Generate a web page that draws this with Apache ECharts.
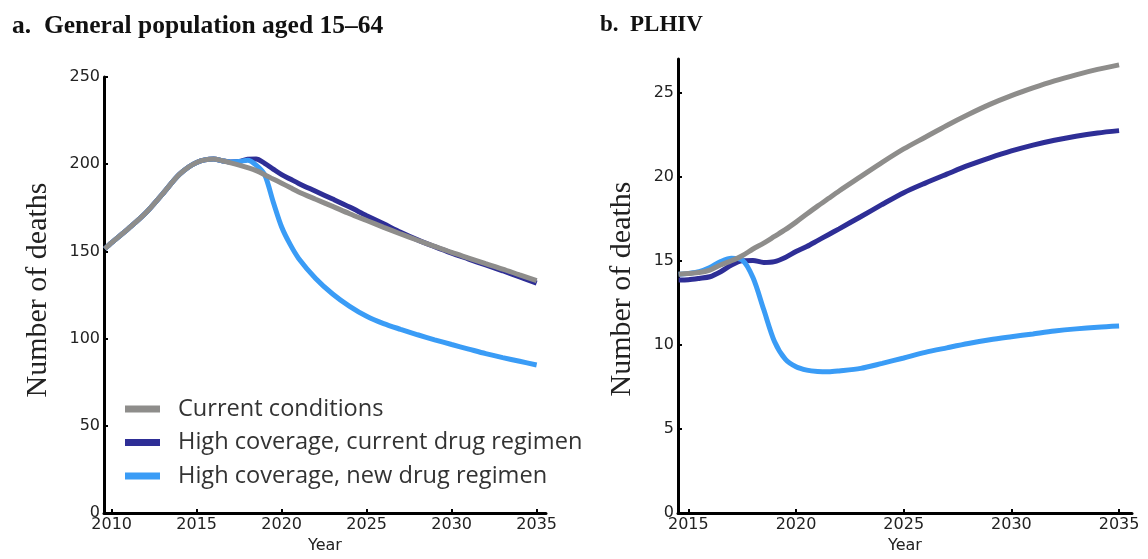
<!DOCTYPE html>
<html>
<head>
<meta charset="utf-8">
<script src="https://cdn.jsdelivr.net/npm/echarts@6/dist/echarts.min.js"></script>
<style>
html,body{margin:0;padding:0;background:#fff;}
#chart{width:1148px;height:559px;}
</style>
</head>
<body>
<div id="chart"></div>
<script>
// ---- Panel a: General population aged 15–64 ----
const yearsA = [2009.6, 2010, 2011, 2012, 2013, 2014, 2015, 2016, 2016.5, 2017, 2017.5, 2018, 2018.5, 2019, 2019.5, 2020, 2020.5, 2021, 2022, 2023, 2024, 2025, 2026, 2027, 2028, 2029, 2030, 2031, 2032, 2033, 2034, 2035];
const currentA = [151.5, 155, 163.2, 172, 183, 194.3, 201, 203, 202, 200.8, 199.5, 198, 196.3, 194, 191.5, 189.1, 186.6, 184.1, 179.9, 175.8, 171.6, 167.7, 163.8, 160, 156.4, 152.9, 149.4, 146.2, 143, 139.9, 136.5, 133.2];
const highCurA = [151.5, 155, 163.2, 172, 183, 194.3, 201, 203, 202, 201.3, 201.5, 202.8, 203, 200.5, 197.2, 194, 191.5, 189, 184.5, 180, 175.4, 170.5, 165.8, 161, 156.6, 152.7, 149, 145.6, 142.2, 138.9, 135.4, 131.8];
const highNewA = [151.5, 155, 163.2, 172, 183, 194.3, 201, 203, 202, 201.3, 201.5, 202.3, 199.5, 194, 178.5, 164, 154, 146, 134.5, 125.6, 118.5, 112.8, 108.6, 105.3, 102.2, 99.3, 96.6, 94, 91.4, 89.1, 87, 84.9];
const xTicksA = [2010, 2015, 2020, 2025, 2030, 2035];
const yTicksA = [0, 50, 100, 150, 200, 250];

// ---- Panel b: PLHIV ----
const yearsB = [2014.55, 2015, 2015.5, 2016, 2016.5, 2017, 2017.5, 2018, 2018.5, 2019, 2019.5, 2020, 2020.5, 2021, 2021.5, 2022, 2023, 2024, 2025, 2026, 2027, 2028, 2029, 2030, 2031, 2032, 2033, 2034, 2035];
const currentB = [14.2, 14.25, 14.3, 14.45, 14.75, 15.0, 15.3, 15.7, 16.05, 16.45, 16.85, 17.3, 17.78, 18.25, 18.7, 19.15, 20.0, 20.85, 21.65, 22.35, 23.05, 23.7, 24.3, 24.82, 25.28, 25.7, 26.06, 26.38, 26.65];
const highCurB = [13.85, 13.87, 13.95, 14.05, 14.35, 14.75, 15.0, 15.02, 14.9, 14.95, 15.2, 15.55, 15.85, 16.2, 16.55, 16.9, 17.62, 18.35, 19.05, 19.62, 20.15, 20.67, 21.12, 21.53, 21.88, 22.17, 22.41, 22.6, 22.74];
const highNewB = [14.2, 14.25, 14.35, 14.6, 14.95, 15.15, 15.05, 14.0, 12.1, 10.2, 9.15, 8.7, 8.5, 8.42, 8.4, 8.45, 8.6, 8.9, 9.22, 9.55, 9.82, 10.08, 10.3, 10.48, 10.65, 10.82, 10.95, 11.05, 11.12];
const xTicksB = [2015, 2020, 2025, 2030, 2035];
const yTicksB = [0, 5, 10, 15, 20, 25];

const seriesNames = ['Current conditions', 'High coverage, current drug regimen', 'High coverage, new drug regimen'];
const colors = { cur: '#8e8d8b', hcur: '#2e2e96', hnew: '#3a9cf6' };

function pairs(xs, ys) { return xs.map((x, i) => [x, ys[i]]); }

const tickFont = { fontFamily: 'DejaVu Sans', fontSize: 16, color: '#222' };

function xAxisCfg(gi, min, max, ticks) {
  return {
    type: 'value', gridIndex: gi, min: min, max: max,
    name: 'Year', nameLocation: 'middle', nameGap: 25,
    nameTextStyle: tickFont,
    axisLine: { show: true, lineStyle: { color: '#000', width: 3 } },
    axisTick: { show: true, inside: true, length: 4, customValues: ticks, lineStyle: { color: '#000', width: 2 } },
    axisLabel: Object.assign({ customValues: ticks, margin: 4, formatter: v => String(v) }, tickFont),
    splitLine: { show: false }
  };
}
function yAxisCfg(gi, min, max, ticks, gap, pad) {
  return {
    type: 'value', gridIndex: gi, min: min, max: max,
    name: 'Number of deaths', nameLocation: 'middle', nameGap: gap,
    nameTextStyle: { fontFamily: 'Liberation Serif', fontSize: 30, color: '#222', padding: pad },
    axisLine: { show: true, lineStyle: { color: '#000', width: 3 } },
    axisTick: { show: true, inside: true, length: 4, customValues: ticks, lineStyle: { color: '#000', width: 2 } },
    axisLabel: Object.assign({ customValues: ticks, margin: 4 }, tickFont),
    splitLine: { show: false }
  };
}
function lineSeries(name, xi, data, color) {
  return {
    name: name, type: 'line', xAxisIndex: xi, yAxisIndex: xi,
    data: data, showSymbol: false, symbol: 'none',
    smooth: 0.3,
    lineStyle: { color: color, width: 5 }, itemStyle: { color: color },
    animation: false
  };
}

const chart = echarts.init(document.getElementById('chart'), null, { renderer: 'canvas' });
chart.setOption({
  backgroundColor: '#fff',
  animation: false,
  title: [
    { text: 'a.  General population aged 15–64', left: 12, top: 13, padding: 0,
      textStyle: { fontFamily: 'Liberation Serif', fontWeight: 'bold', fontSize: 25.5, color: '#111' } },
    { text: 'b.  PLHIV', left: 600, top: 14, padding: 0,
      textStyle: { fontFamily: 'Liberation Serif', fontWeight: 'bold', fontSize: 23, color: '#111' } }
  ],
  legend: {
    data: seriesNames, orient: 'vertical', left: 125, top: 397,
    itemWidth: 35, itemHeight: 7, itemGap: 9.5, icon: 'rect', padding: 0,
    textStyle: { fontFamily: 'Open Sans', fontSize: 23.6, color: '#333', lineHeight: 24, padding: [0, 0, 0, 13] }
  },
  grid: [
    { left: 104, top: 77, width: 442, height: 442 },
    { left: 678, top: 59, width: 454, height: 456 }
  ],
  xAxis: [
    xAxisCfg(0, 2009.55, 2035.55, xTicksA),
    xAxisCfg(1, 2014.52, 2035.6, xTicksB)
  ],
  yAxis: [
    yAxisCfg(0, 0, 250, yTicksA, 51, [0, 0, 0, 10]),
    yAxisCfg(1, 0, 27, yTicksB, 41, [0, 6, 0, 0])
  ],
  series: [
    lineSeries(seriesNames[1], 0, pairs(yearsA, highCurA), colors.hcur),
    lineSeries(seriesNames[2], 0, pairs(yearsA, highNewA), colors.hnew),
    lineSeries(seriesNames[0], 0, pairs(yearsA, currentA), colors.cur),
    lineSeries(seriesNames[1], 1, pairs(yearsB, highCurB), colors.hcur),
    lineSeries(seriesNames[2], 1, pairs(yearsB, highNewB), colors.hnew),
    lineSeries(seriesNames[0], 1, pairs(yearsB, currentB), colors.cur)
  ]
});
</script>
</body>
</html>
